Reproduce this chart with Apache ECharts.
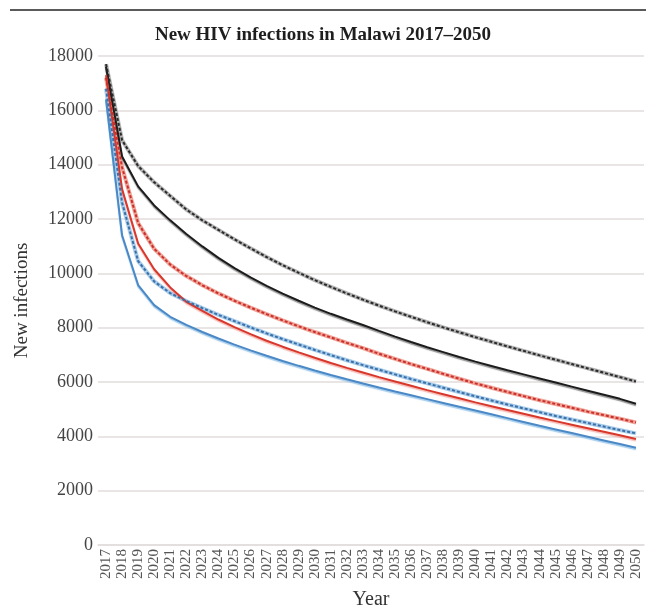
<!DOCTYPE html>
<html>
<head>
<meta charset="utf-8">
<script src="https://cdn.jsdelivr.net/npm/echarts@6/dist/echarts.min.js"></script>
<style>
  html, body { margin: 0; padding: 0; background: #fff; }
  #chart { width: 646px; height: 611px; }
</style>
</head>
<body>
<div id="chart"></div>
<script>
// Years on the horizontal axis
const years = [];
for (let y = 2017; y <= 2050; y++) years.push(String(y));

// Projected new infections per year, one array per scenario
const blackSolid = [17600, 14300, 13200, 12500, 11950, 11450, 10990, 10570, 10190, 9850,
  9540, 9250, 8990, 8740, 8510, 8300, 8100, 7880, 7670, 7470,
  7280, 7100, 6920, 6750, 6590, 6430, 6280, 6130, 5980, 5830,
  5680, 5530, 5380, 5200];
const blackDashed = [17700, 14900, 13950, 13350, 12850, 12350, 11950, 11600, 11250, 10920,
  10600, 10300, 10020, 9750, 9500, 9260, 9030, 8810, 8600, 8400,
  8200, 8010, 7830, 7650, 7480, 7310, 7145, 6980, 6820, 6660,
  6500, 6340, 6180, 6020];
const redSolid = [17300, 13100, 11100, 10150, 9480, 8950, 8620, 8300, 8020, 7760,
  7520, 7300, 7090, 6890, 6700, 6520, 6350, 6180, 6020, 5860,
  5700, 5550, 5400, 5250, 5110, 4970, 4830, 4690, 4560, 4430,
  4300, 4170, 4040, 3900];
const redDashed = [17200, 13900, 11850, 10900, 10320, 9900, 9560, 9260, 8990, 8740,
  8500, 8270, 8050, 7840, 7640, 7440, 7250, 7040, 6850, 6660,
  6480, 6300, 6120, 5950, 5790, 5630, 5480, 5330, 5190, 5050,
  4910, 4780, 4650, 4510];
const blueSolid = [16400, 11400, 9570, 8830, 8400, 8100, 7840, 7600, 7375, 7165,
  6965, 6775, 6595, 6425, 6260, 6100, 5945, 5795, 5650, 5510,
  5370, 5230, 5090, 4950, 4810, 4670, 4530, 4390, 4255, 4120,
  3985, 3850, 3715, 3580];
const blueDashed = [16800, 12600, 10450, 9700, 9270, 8980, 8720, 8470, 8240, 8010,
  7790, 7580, 7380, 7180, 6990, 6800, 6620, 6450, 6280, 6110,
  5950, 5790, 5630, 5470, 5320, 5170, 5030, 4890, 4750, 4620,
  4490, 4360, 4230, 4110];

// Value-axis ticks
const yTicks = [0, 2000, 4000, 6000, 8000, 10000, 12000, 14000, 16000, 18000];

const serif = '"Liberation Serif", "DejaVu Serif", serif';

function solidLine(name, data, color, shadow) {
  return {
    name: name, type: 'line', data: data, symbol: 'none', smooth: false,
    lineStyle: { color: color, width: 2, shadowColor: shadow, shadowBlur: 1, shadowOffsetY: 1.5 },
    z: 3
  };
}
function dashedLine(name, data, color, under) {
  return [
    {
      name: name + ' (band)', type: 'line', data: data, symbol: 'none', smooth: false,
      lineStyle: { color: under, width: 4 }, z: 2, silent: true
    },
    {
      name: name, type: 'line', data: data, symbol: 'none', smooth: false,
      lineStyle: { color: color, width: 2, type: [3, 2] }, z: 4
    }
  ];
}

const chart = echarts.init(document.getElementById('chart'), null, { renderer: 'canvas' });
chart.setOption({
  animation: false,
  backgroundColor: '#ffffff',
  title: {
    text: 'New HIV infections in Malawi 2017\u20132050',
    left: 'center', top: 21,
    textStyle: { fontFamily: serif, fontWeight: 'bold', fontSize: 19, color: '#1e1e1e' }
  },
  graphic: [{
    type: 'line', shape: { x1: 10, y1: 10, x2: 646, y2: 10 },
    style: { stroke: '#5a5a5a', lineWidth: 2 }
  }],
  grid: { left: 98, right: 2, top: 56, bottom: 66, containLabel: false, outerBoundsMode: 'none' },
  xAxis: {
    type: 'category', data: years, boundaryGap: true,
    name: 'Year', nameLocation: 'middle', nameGap: 45,
    nameTextStyle: { fontFamily: serif, fontSize: 20, color: '#333' },
    axisLine: { show: true, lineStyle: { color: '#e2dddd', width: 1.5 } },
    axisTick: { show: false },
    axisLabel: { rotate: 90, interval: 0, margin: 4, fontFamily: serif, fontSize: 15, color: '#555' }
  },
  yAxis: {
    type: 'value', min: yTicks[0], max: yTicks[yTicks.length - 1], interval: 2000,
    name: 'New infections', nameLocation: 'middle', nameGap: 66,
    nameTextStyle: { fontFamily: serif, fontSize: 19, color: '#333' },
    axisLine: { show: false }, axisTick: { show: false },
    axisLabel: { margin: 5, fontFamily: serif, fontSize: 18, color: '#444', formatter: v => String(v) },
    splitLine: { lineStyle: { color: '#e2dddd', width: 1.5 } }
  },
  series: [
    ...dashedLine('Scenario B', blackDashed, '#2a2a2a', '#b5b5b5'),
    solidLine('Scenario A', blackSolid, '#1c1c1c', 'rgba(120,120,120,0.8)'),
    ...dashedLine('Scenario D', redDashed, '#c9302a', '#f0a49a'),
    solidLine('Scenario C', redSolid, '#d8372c', 'rgba(240,140,130,0.6)'),
    ...dashedLine('Scenario F', blueDashed, '#3b6fa8', '#a9cdea'),
    solidLine('Scenario E', blueSolid, '#4a88c6', 'rgba(140,190,230,0.8)')
  ]
});
</script>
</body>
</html>
